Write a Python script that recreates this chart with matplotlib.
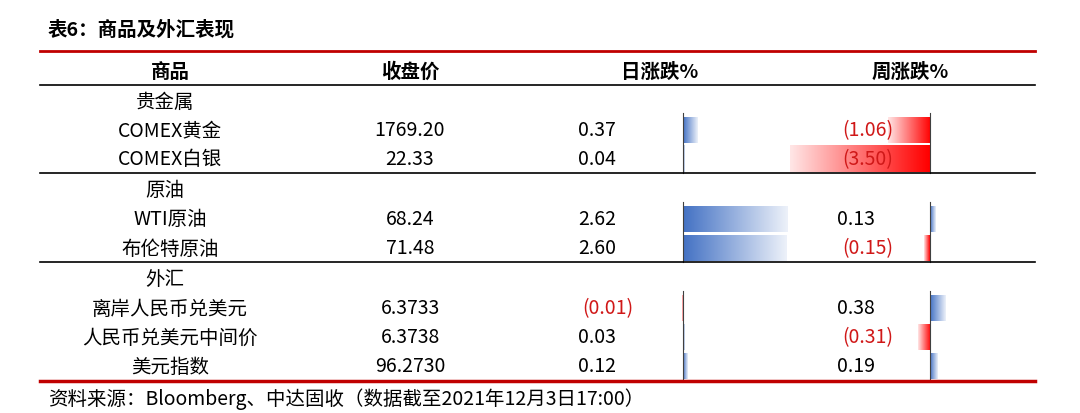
import matplotlib
matplotlib.use("Agg")
import matplotlib.pyplot as plt
import numpy as np

plt.rcParams['font.family'] = ['Noto Sans CJK SC', 'DejaVu Sans']

title = "表6：商品及外汇表现"
headers = ["商品", "收盘价", "日涨跌%", "周涨跌%"]
groups = ["贵金属", "原油", "外汇"]
names = [["COMEX黄金", "COMEX白银"], ["WTI原油", "布伦特原油"],
         ["离岸人民币兑美元", "人民币兑美元中间价", "美元指数"]]
closes = [["1769.20", "22.33"], ["68.24", "71.48"], ["6.3733", "6.3738", "96.2730"]]
day_chg = [[0.37, 0.04], [2.62, 2.60], [-0.01, 0.03, 0.12]]
week_chg = [[-1.06, -3.50], [0.13, -0.15], [0.38, -0.31, 0.19]]
source = "资料来源：Bloomberg、中达固收（数据截至2021年12月3日17:00）"

fig = plt.figure(figsize=(10.8, 4.14), dpi=100)
ax = fig.add_axes([0, 0, 1, 1])
ax.set_xlim(0, 1080)
ax.set_ylim(414, 0)
ax.axis('off')

FS = 14
BLUE = np.array([68, 114, 196]) / 255
RED = np.array([255, 0, 0]) / 255
TXT_RED = '#D01818'
SCALE = 40.0
DAY_AX, WEEK_AX = 683, 930

def fmt(v):
    return f"({abs(v):.2f})" if v < 0 else f"{v:.2f}"

def gbar(x0, v, yc, h=26):
    col = BLUE if v >= 0 else RED
    w = v * SCALE
    n = 64
    t = np.linspace(0, 1, n)
    rgba = np.ones((1, n, 4))
    for i in range(3):
        rgba[0, :, i] = col[i] + (1 - col[i]) * t * 0.9
    x1 = x0 + w
    if w < 0:
        rgba = rgba[:, ::-1]
        ext = [x1, x0, yc + h / 2, yc - h / 2]
    else:
        ext = [x0, x1, yc + h / 2, yc - h / 2]
    if abs(w) < 1.5:
        ext[1] = ext[0] + 1.5 if w >= 0 else ext[1]
        ext[0] = ext[1] - 1.5 if w < 0 else ext[0]
    ax.imshow(rgba, extent=ext, aspect='auto', zorder=1, interpolation='bilinear')

ax.text(48, 30, title, fontsize=FS, fontweight='bold', va='center', ha='left')
ax.plot([40, 1035], [52, 52], color='#C00000', lw=2)
hx = [170, 410, 660, 910]
for x, h in zip(hx, headers):
    ax.text(x, 72, h, fontsize=FS, fontweight='bold', ha='center', va='center')
ax.plot([40, 1035], [86, 86], color='black', lw=1.2)

y = 102
for gi, g in enumerate(groups):
    ax.text(165, y, g, fontsize=FS, ha='center', va='center')
    top = y + 12
    y += 29
    for nm, cl, d, wk in zip(names[gi], closes[gi], day_chg[gi], week_chg[gi]):
        ax.text(170, y, nm, fontsize=FS, ha='center', va='center')
        ax.text(410, y, cl, fontsize=FS, ha='center', va='center')
        ax.text(578 if d >= 0 else 582, y, fmt(d), fontsize=FS, ha='left', va='center',
                color=TXT_RED if d < 0 else 'black', zorder=3)
        ax.text(875 if wk >= 0 else 893, y, fmt(wk), fontsize=FS, ha='right', va='center',
                color=TXT_RED if wk < 0 else 'black', zorder=3)
        gbar(DAY_AX, d, y)
        gbar(WEEK_AX, wk, y)
        y += 29
    bot = y - 15
    for xa in (DAY_AX, WEEK_AX):
        ax.plot([xa, xa], [top, bot], color='#404040', lw=0.8, zorder=2)
    if gi < 2:
        ax.plot([40, 1035], [bot, bot], color='black', lw=1.2)
        y = bot + 17
    else:
        ax.plot([40, 1035], [bot + 1, bot + 1], color='#C00000', lw=2.5)
        ax.text(48, bot + 18, source, fontsize=FS, ha='left', va='center')

fig.savefig("out.png", dpi=100)
